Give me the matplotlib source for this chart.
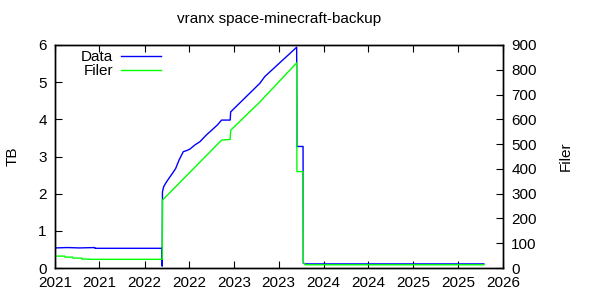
import matplotlib
matplotlib.use("Agg")
import matplotlib.pyplot as plt
import matplotlib.dates as mdates
import pandas as pd

plt.rcParams['font.family'] = ['Liberation Sans', 'DejaVu Sans']

title = "vranx space-minecraft-backup"

data_dates = ["2021-01-01", "2021-02-20", "2021-04-10", "2021-06-12", "2021-06-13",
              "2022-03-13", "2022-03-14", "2022-03-15", "2022-03-20", "2022-03-28",
              "2022-04-10", "2022-04-25", "2022-05-08", "2022-05-22", "2022-06-08",
              "2022-06-22", "2022-07-05", "2022-07-25", "2022-08-15", "2022-09-10",
              "2022-10-02", "2022-10-25", "2022-11-11", "2022-12-16", "2022-12-18",
              "2023-04-16", "2023-05-06", "2023-09-13", "2023-09-14", "2023-10-09",
              "2023-10-10", "2023-10-18", "2025-10-15"]
data_tb = [0.54, 0.55, 0.54, 0.55, 0.53,
           0.53, 0.05, 2.05, 2.19, 2.28,
           2.41, 2.55, 2.68, 2.91, 3.13,
           3.16, 3.20, 3.31, 3.40, 3.58,
           3.71, 3.85, 3.98, 3.98, 4.20,
           4.97, 5.15, 5.94, 3.27, 3.27,
           0.13, 0.11, 0.11]

filer_dates = ["2021-01-01", "2021-02-10", "2021-02-11", "2021-03-14", "2021-03-15",
               "2021-04-20", "2021-04-21", "2021-05-19", "2021-05-20", "2022-03-14",
               "2022-03-15", "2022-11-11", "2022-12-16", "2022-12-18", "2023-04-16",
               "2023-09-13", "2023-09-14", "2023-10-09", "2023-10-10", "2023-10-18",
               "2025-10-15"]
filer_count = [48, 48, 44, 44, 40,
               40, 36, 36, 35, 35,
               274, 516, 519, 556, 670,
               828, 389, 389, 22, 13,
               13]

x_start, x_end = "2021-01-01", "2026-01-01"

fig = plt.figure(figsize=(6, 3), dpi=100)
ax = fig.add_axes([55/600, 1-268/300, 448/600, 223/300])
ax2 = ax.twinx()

dd = pd.to_datetime(data_dates)
fd = pd.to_datetime(filer_dates)
l1, = ax.plot(dd, data_tb, color='#0000ff', lw=1.0, label='Data')
l2, = ax2.plot(fd, filer_count, color='#00ff00', lw=1.0, label='Filer')

ax.set_xlim(pd.Timestamp(x_start), pd.Timestamp(x_end))
ax.set_ylim(0, 6)
ax2.set_ylim(0, 900)
ax.set_yticks(range(0, 7))
ax2.set_yticks(range(0, 901, 100))
ax.xaxis.set_major_locator(mdates.MonthLocator(bymonth=[1, 7]))
ax.xaxis.set_major_formatter(mdates.DateFormatter('%Y'))

fs = 11
ax.tick_params(axis='x', direction='in', top=True, length=5, labelsize=fs, pad=6)
ax.tick_params(axis='y', direction='in', length=5, labelsize=fs, pad=6)
ax2.tick_params(axis='y', direction='in', length=5, labelsize=fs, pad=6)
for a in (ax, ax2):
    for s in a.spines.values():
        s.set_linewidth(1.0)

ax.set_ylabel('TB', fontsize=fs, labelpad=13)
ax2.set_ylabel('Filer', fontsize=fs, labelpad=16)
fig.text(279/600, 1-19/300, title, ha='center', va='center', fontsize=fs)

leg = ax.legend([l1, l2], ['Data', 'Filer'], loc='upper left', frameon=False,
                markerfirst=False, fontsize=fs, handlelength=2.6,
                borderaxespad=0, borderpad=0, labelspacing=0.0, handletextpad=0.5,
                bbox_to_anchor=(0.058, 0.978))
for t in leg.get_texts():
    t.set_ha('right')

fig.savefig('out.png', dpi=100)
